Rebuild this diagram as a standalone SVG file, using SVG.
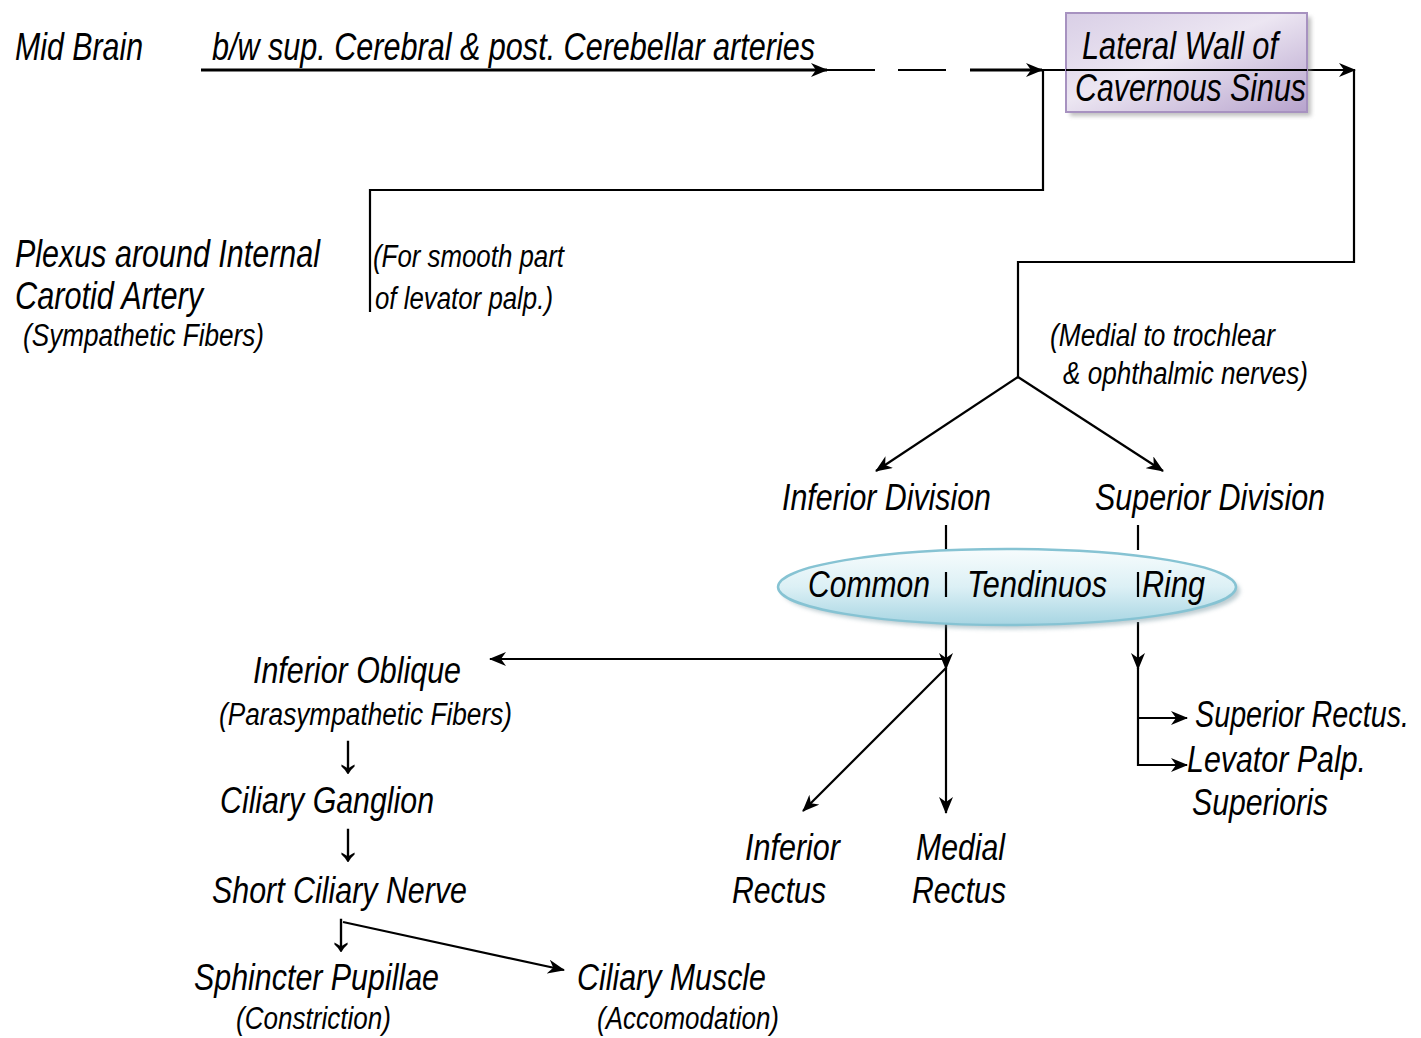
<svg xmlns="http://www.w3.org/2000/svg" width="1421" height="1038" viewBox="0 0 1421 1038">
  <defs>
    <marker id="arrL" viewBox="0 0 17 14" refX="16" refY="7" markerWidth="17" markerHeight="14" markerUnits="userSpaceOnUse" orient="auto">
      <path d="M0,0 L17,7 L0,14 L5,7 z" fill="#000"/>
    </marker>
    <linearGradient id="boxFill" x1="0" y1="0" x2="1" y2="1">
      <stop offset="0" stop-color="#d9cfe6"/>
      <stop offset="0.45" stop-color="#ece6f2"/>
      <stop offset="1" stop-color="#b7a3cd"/>
    </linearGradient>
    <linearGradient id="ringFill" x1="0" y1="0" x2="0" y2="1">
      <stop offset="0" stop-color="#f7fcfd"/>
      <stop offset="0.5" stop-color="#dcf0f5"/>
      <stop offset="1" stop-color="#a7d5e2"/>
    </linearGradient>
    <filter id="soft" x="-10%" y="-20%" width="120%" height="140%">
      <feGaussianBlur stdDeviation="2"/>
    </filter>
  </defs>
  <style>
    .t { font-family: "Liberation Sans Narrow", "Liberation Sans", Arial, sans-serif; font-style: italic; fill: #000; }
    .big { font-size: 38px; }
    .mid { font-size: 36px; }
    .sm { font-size: 31px; }
    .glyph { font-family: "Liberation Sans", Arial, sans-serif; font-size: 56px; fill: #000; }
    .ln { fill: none; stroke: #000; stroke-width: 2.2; }
    .thk { fill: none; stroke: #000; stroke-width: 3; }
  </style>
  <rect width="1421" height="1038" fill="#fff"/>

  <!-- connectors -->
  <g id="connectors">
    <line class="thk" x1="201" y1="70" x2="827" y2="70" marker-end="url(#arrL)"/>
    <line class="ln" x1="825" y1="70" x2="875" y2="70"/>
    <line class="ln" x1="898" y1="70" x2="946" y2="70"/>
    <line class="thk" x1="970" y1="70" x2="1042" y2="70" marker-end="url(#arrL)"/>
    <line class="ln" x1="1041" y1="70" x2="1355" y2="70" marker-end="url(#arrL)"/>
    <polyline class="ln" points="1043,70 1043,190 370,190 370,312"/>
    <polyline class="ln" points="1354,70 1354,262 1018,262 1018,377"/>
    <line class="ln" x1="1018" y1="377" x2="876" y2="471" marker-end="url(#arrL)"/>
    <line class="ln" x1="1018" y1="377" x2="1163" y2="471" marker-end="url(#arrL)"/>
    <line class="ln" x1="946" y1="525" x2="946" y2="550"/>
    <line class="ln" x1="1138" y1="525" x2="1138" y2="550"/>
    <line class="ln" x1="946" y1="622" x2="946" y2="669" marker-end="url(#arrL)"/>
    <line class="ln" x1="946" y1="659" x2="490" y2="659" marker-end="url(#arrL)"/>
    <line class="ln" x1="946" y1="668" x2="946" y2="813" marker-end="url(#arrL)"/>
    <line class="ln" x1="946" y1="668" x2="803" y2="811" marker-end="url(#arrL)"/>
    <line class="ln" x1="1138" y1="622" x2="1138" y2="669" marker-end="url(#arrL)"/>
    <polyline class="ln" points="1138,668 1138,765 1187,765" marker-end="url(#arrL)"/>
    <line class="ln" x1="1138" y1="718" x2="1187" y2="718" marker-end="url(#arrL)"/>
    <line class="ln" x1="343" y1="922" x2="564" y2="970" marker-end="url(#arrL)"/>
  </g>

  <!-- source and route labels -->
  <g id="mid-brain">
    <text class="t big" x="15" y="60" textLength="128" lengthAdjust="spacingAndGlyphs">Mid Brain</text>
  </g>
  <g id="route">
    <text class="t big" x="212" y="60" textLength="603" lengthAdjust="spacingAndGlyphs">b/w sup. Cerebral &amp; post. Cerebellar arteries</text>
  </g>

  <g id="cavernous-sinus">
    <rect x="1070" y="17" width="241" height="99" fill="#8a8a8a" opacity="0.55" filter="url(#soft)"/>
    <rect x="1066" y="13" width="241" height="99" fill="url(#boxFill)" stroke="#a792c0" stroke-width="2"/>
    <line class="ln" x1="1066" y1="70" x2="1307" y2="70"/>
    <text class="t big" x="1082" y="59" textLength="196" lengthAdjust="spacingAndGlyphs">Lateral Wall of</text>
    <text class="t big" x="1075" y="101" textLength="231" lengthAdjust="spacingAndGlyphs">Cavernous Sinus</text>
  </g>

  <g id="plexus">
    <text class="t big" x="15" y="267" textLength="305" lengthAdjust="spacingAndGlyphs">Plexus around Internal</text>
    <text class="t big" x="15" y="309" textLength="188" lengthAdjust="spacingAndGlyphs">Carotid Artery</text>
    <text class="t sm" x="23" y="346" textLength="241" lengthAdjust="spacingAndGlyphs">(Sympathetic Fibers)</text>
  </g>

  <g id="smooth-part">
    <text class="t sm" x="373" y="267" textLength="191" lengthAdjust="spacingAndGlyphs">(For smooth part</text>
    <text class="t sm" x="375" y="309" textLength="178" lengthAdjust="spacingAndGlyphs">of levator palp.)</text>
  </g>

  <g id="medial-note">
    <text class="t sm" x="1050" y="346" textLength="225" lengthAdjust="spacingAndGlyphs">(Medial to trochlear</text>
    <text class="t sm" x="1063" y="384" textLength="245" lengthAdjust="spacingAndGlyphs">&amp; ophthalmic nerves)</text>
  </g>

  <g id="inferior-division">
    <text class="t mid" x="782" y="510" textLength="209" lengthAdjust="spacingAndGlyphs">Inferior Division</text>
  </g>
  <g id="superior-division">
    <text class="t mid" x="1095" y="510" textLength="230" lengthAdjust="spacingAndGlyphs">Superior Division</text>
  </g>

  <g id="common-tendinous-ring">
    <ellipse cx="1011" cy="591" rx="229" ry="38" fill="#7a9aa4" opacity="0.5" filter="url(#soft)"/>
    <ellipse cx="1007" cy="587" rx="229" ry="38" fill="url(#ringFill)" stroke="#86c3d3" stroke-width="2.5"/>
    <line class="ln" x1="946" y1="572" x2="946" y2="597"/>
    <line class="ln" x1="1138" y1="572" x2="1138" y2="597"/>
    <text class="t mid" x="808" y="597" textLength="122" lengthAdjust="spacingAndGlyphs">Common</text>
    <text class="t mid" x="967" y="597" textLength="140" lengthAdjust="spacingAndGlyphs">Tendinuos</text>
    <text class="t mid" x="1142" y="597" textLength="63" lengthAdjust="spacingAndGlyphs">Ring</text>
  </g>

  <g id="inferior-oblique">
    <text class="t mid" x="253" y="683" textLength="208" lengthAdjust="spacingAndGlyphs">Inferior Oblique</text>
    <text class="t sm" x="219" y="725" textLength="293" lengthAdjust="spacingAndGlyphs">(Parasympathetic Fibers)</text>
    <text class="glyph" x="334" y="772">↓</text>
  </g>

  <g id="ciliary-ganglion">
    <text class="t mid" x="220" y="813" textLength="214" lengthAdjust="spacingAndGlyphs">Ciliary Ganglion</text>
    <text class="glyph" x="334" y="860">↓</text>
  </g>

  <g id="short-ciliary-nerve">
    <text class="t mid" x="212" y="903" textLength="255" lengthAdjust="spacingAndGlyphs">Short Ciliary Nerve</text>
    <text class="glyph" x="327" y="950">↓</text>
  </g>

  <g id="sphincter-pupillae">
    <text class="t mid" x="194" y="990" textLength="245" lengthAdjust="spacingAndGlyphs">Sphincter Pupillae</text>
    <text class="t sm" x="236" y="1029" textLength="155" lengthAdjust="spacingAndGlyphs">(Constriction)</text>
  </g>

  <g id="ciliary-muscle">
    <text class="t mid" x="577" y="990" textLength="189" lengthAdjust="spacingAndGlyphs">Ciliary Muscle</text>
    <text class="t sm" x="597" y="1029" textLength="182" lengthAdjust="spacingAndGlyphs">(Accomodation)</text>
  </g>

  <g id="inferior-rectus">
    <text class="t mid" x="745" y="860" textLength="95" lengthAdjust="spacingAndGlyphs">Inferior</text>
    <text class="t mid" x="732" y="903" textLength="94" lengthAdjust="spacingAndGlyphs">Rectus</text>
  </g>

  <g id="medial-rectus">
    <text class="t mid" x="916" y="860" textLength="89" lengthAdjust="spacingAndGlyphs">Medial</text>
    <text class="t mid" x="912" y="903" textLength="94" lengthAdjust="spacingAndGlyphs">Rectus</text>
  </g>

  <g id="superior-rectus">
    <text class="t mid" x="1195" y="727" textLength="214" lengthAdjust="spacingAndGlyphs">Superior Rectus.</text>
  </g>

  <g id="levator-palpebrae">
    <text class="t mid" x="1187" y="772" textLength="179" lengthAdjust="spacingAndGlyphs">Levator Palp.</text>
    <text class="t mid" x="1192" y="815" textLength="136" lengthAdjust="spacingAndGlyphs">Superioris</text>
  </g>
</svg>
